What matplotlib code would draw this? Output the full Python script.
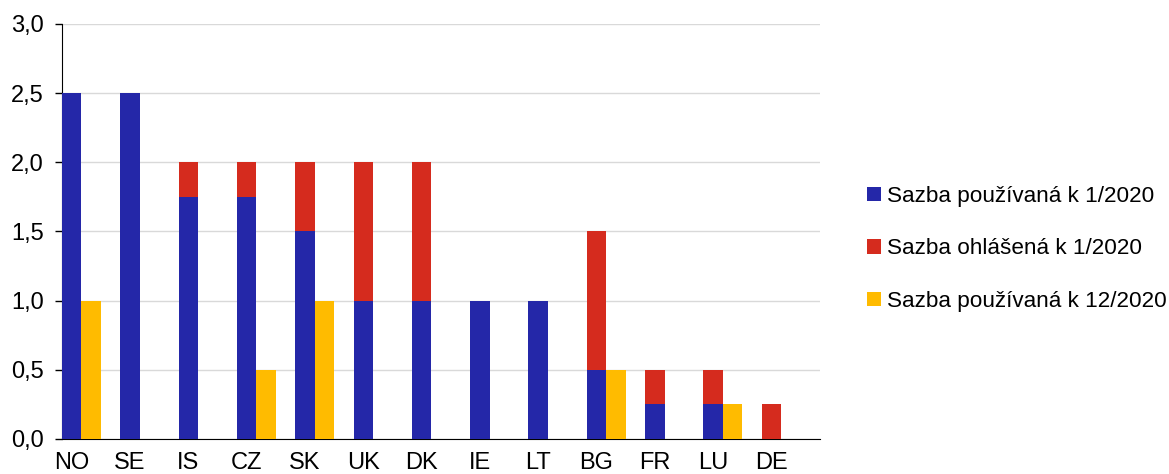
import matplotlib.pyplot as plt
import numpy as np

plt.rcParams['font.family'] = ['Liberation Sans', 'DejaVu Sans']

countries = ['NO', 'SE', 'IS', 'CZ', 'SK', 'UK', 'DK', 'IE', 'LT', 'BG', 'FR', 'LU', 'DE']
used_jan = [2.5, 2.5, 1.75, 1.75, 1.5, 1.0, 1.0, 1.0, 1.0, 0.5, 0.25, 0.25, 0.0]
announced_jan = [0.0, 0.0, 0.25, 0.25, 0.5, 1.0, 1.0, 0.0, 0.0, 1.0, 0.25, 0.25, 0.25]
used_dec = [1.0, 0.0, 0.0, 0.5, 1.0, 0.0, 0.0, 0.0, 0.0, 0.5, 0.0, 0.25, 0.0]

labels = ['Sazba používaná k 1/2020', 'Sazba ohlášená k 1/2020', 'Sazba používaná k 12/2020']
colors = ['#2427A8', '#D52B1E', '#FFBB00']

fig = plt.figure(figsize=(11.69, 4.74), dpi=100)
ax = fig.add_axes([0.053, 0.074, 0.6485, 0.8755])

x = np.arange(len(countries))
w = 0.335
b1 = ax.bar(x, used_jan, w, color=colors[0], label=labels[0], zorder=3)
b2 = ax.bar(x, announced_jan, w, bottom=used_jan, color=colors[1], label=labels[1], zorder=3)
b3 = ax.bar(x + w, used_dec, w, color=colors[2], label=labels[2], zorder=3)

ax.set_xlim(-w / 2, len(countries) - w / 2)
ax.set_ylim(0, 3.0)
ax.set_yticks(np.arange(0, 3.01, 0.5))
ax.set_yticklabels([f'{v:.1f}'.replace('.', ',') for v in np.arange(0, 3.01, 0.5)])
ax.set_xticks(x)
ax.set_xticklabels(countries)
ax.tick_params(axis='x', length=0, pad=9.5, labelsize=17)
ax.tick_params(axis='y', length=5, width=1, labelsize=17, pad=8)
ax.grid(axis='y', color='#D9D9D9', linewidth=1, zorder=0)

for s in ['top', 'right']:
    ax.spines[s].set_visible(False)
ax.spines['left'].set_color('black')
ax.spines['bottom'].set_color('black')

fig.legend(handles=[b1, b2, b3], labels=labels, loc='center left',
           bbox_to_anchor=(0.7245, 0.475), frameon=False, fontsize=16.2,
           handlelength=0.6, handleheight=0.6, handletextpad=0.3, labelspacing=1.4)

fig.savefig('out.png', dpi=100)
